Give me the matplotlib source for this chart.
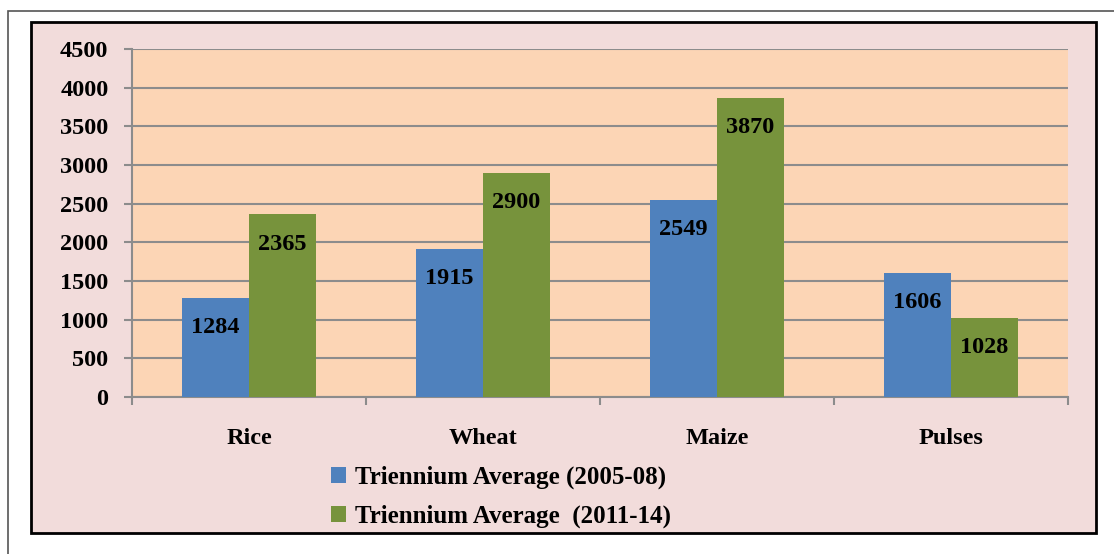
import matplotlib.pyplot as plt
from matplotlib.patches import Rectangle
import numpy as np

# data
crops = ['Rice', 'Wheat', 'Maize', 'Pulses']
avg_2005_08 = [1284, 1915, 2549, 1606]
avg_2011_14 = [2365, 2900, 3870, 1028]
series_names = ['Triennium Average (2005-08)', 'Triennium Average  (2011-14)']

blue = '#4F81BD'
green = '#77933C'
grey = '#8C8C8C'

plt.rcParams['font.family'] = ['Liberation Serif', 'DejaVu Serif']
plt.rcParams['font.weight'] = 'bold'

fig = plt.figure(figsize=(11.14, 5.54), dpi=100)
W, H = 1114, 554

# outer frame and pink chart area (behind the axes)
fig.patches.append(Rectangle((8 / W, -0.05), 1.2, 1 - 11 / H + 0.05, transform=fig.transFigure,
                             fill=False, edgecolor='#555555', linewidth=1.2, zorder=-10))
fig.patches.append(Rectangle((31 / W, 1 - 533 / H), (1096 - 31) / W, (533 - 22) / H,
                             transform=fig.transFigure, facecolor='#F2DCDB',
                             edgecolor='black', linewidth=2, zorder=-9))

ax = fig.add_axes([132 / W, 1 - 397 / H, (1068 - 132) / W, (397 - 49) / H])
ax.set_facecolor('#FCD5B5')

x = np.arange(len(crops))
w = 0.286
b1 = ax.bar(x - w / 2, avg_2005_08, w, color=blue, label=series_names[0], zorder=3)
b2 = ax.bar(x + w / 2, avg_2011_14, w, color=green, label=series_names[1], zorder=3)

for bars, vals in [(b1, avg_2005_08), (b2, avg_2011_14)]:
    for r, v in zip(bars, vals):
        ax.annotate(str(v), (r.get_x() + r.get_width() / 2, v), xytext=(0, -30),
                    textcoords='offset pixels', ha='center', va='center',
                    fontsize=17.5, fontweight='bold', zorder=4)

ax.set_xlim(-0.5, 3.5)
ax.set_ylim(0, 4500)
ax.set_yticks(range(0, 4501, 500))
ax.tick_params(axis='y', labelsize=17.5, length=6, color=grey, width=1.5, pad=11)
ax.yaxis.grid(True, color=grey, linewidth=1.5, zorder=0)
ax.set_axisbelow(True)

ax.set_xticks(x)
ax.set_xticklabels(crops, fontsize=17.5, fontweight='bold')
ax.tick_params(axis='x', length=0, pad=22)
ax.set_xticks(np.arange(-0.5, 4, 1), minor=True)
ax.tick_params(axis='x', which='minor', length=6, color=grey, width=1.5)

for s in ['top', 'right']:
    ax.spines[s].set_visible(False)
for s in ['left', 'bottom']:
    ax.spines[s].set_color(grey)
    ax.spines[s].set_linewidth(1.5)

fig.legend(loc='upper left', bbox_to_anchor=(331 / W, 1 - 466 / H), frameon=False,
           prop={'size': 18, 'weight': 'bold'}, handlelength=0.6, handleheight=0.6,
           handletextpad=0.35, labelspacing=0.6, borderpad=0, borderaxespad=0)

fig.savefig('out.png', dpi=100)
